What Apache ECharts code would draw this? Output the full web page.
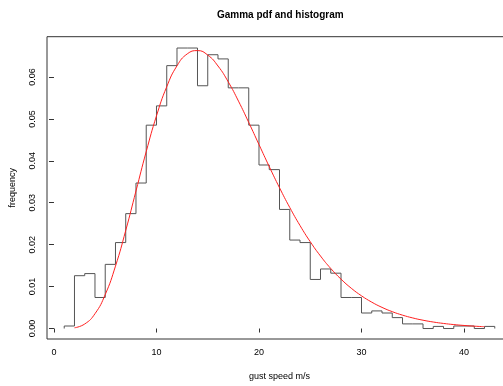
<!DOCTYPE html>
<html><head><meta charset="utf-8">
<script src="https://cdn.jsdelivr.net/npm/echarts@6/dist/echarts.min.js"></script>
<style>html,body{margin:0;padding:0;background:#fff;overflow:hidden;width:503px;height:386px}#c{width:512px;height:386px}</style>
</head><body><div id="c"></div>
<script>
const chartTitle = 'Gamma pdf and histogram';
const xName = 'gust speed m/s';
const yName = 'frequency';
// histogram: bin left edges (width 1) and bin heights (density)
const binStarts = [1,2,3,4,5,6,7,8,9,10,11,12,13,14,15,16,17,18,19,20,21,22,23,24,25,26,27,28,29,30,31,32,33,34,35,36,37,38,39,40,41,42];
const binHeights = [0.0006,0.0126,0.0131,0.0074,0.0153,0.0205,0.0274,0.0347,0.0485,0.0531,0.0627,0.0669,0.0669,0.0579,0.0653,0.0643,0.0574,0.0574,0.0485,0.0390,0.0379,0.0284,0.0211,0.0205,0.0117,0.0142,0.0132,0.0074,0.0074,0.0037,0.0042,0.0037,0.0026,0.0011,0.0011,0.0000,0.0005,0.0000,0.0006,0.0006,0.0000,0.0005];
const binWidth = 1;
// gamma pdf curve
const curveX = [2,3,4,5,6,7,8,9,10,11,12,13,14,15,16,17,18,19,20,21,22,23,24,25,26,27,28,29,30,31,32,33,34,35,36,37,38,39,40,41,42];
const curveY = [0.00017,0.00108,0.00353,0.00810,0.01488,0.02338,0.03280,0.04220,0.05071,0.05767,0.06265,0.06550,0.06629,0.06522,0.06261,0.05883,0.05423,0.04915,0.04387,0.03862,0.03358,0.02887,0.02457,0.02070,0.01729,0.01432,0.01178,0.00961,0.00780,0.00629,0.00504,0.00402,0.00319,0.00252,0.00198,0.00155,0.00121,0.00094,0.00073,0.00056,0.00043];
const xTicks = [0,10,20,30,40];
const yTicks = [0,0.01,0.02,0.03,0.04,0.05,0.06];

const histPts = [[binStarts[0], 0]];
binStarts.forEach((s, i) => { histPts.push([s, binHeights[i]]); histPts.push([s + binWidth, binHeights[i]]); });
histPts.push([binStarts[binStarts.length - 1] + binWidth, 0]);

const FONT = "'Liberation Sans', Arial, Helvetica, sans-serif";
const chart = echarts.init(document.getElementById('c'), null, {renderer: 'canvas'});
chart.setOption({
  animation: false,
  backgroundColor: '#fff',
  title: {
    text: chartTitle, left: 217, top: 10, padding: 0,
    textStyle: {fontFamily: FONT, fontSize: 10, fontWeight: 'bold', color: '#000'}
  },
  grid: {left: 46.5, top: 36.7, right: 0, bottom: 40.3, show: true, borderColor: '#333', borderWidth: 1, backgroundColor: 'transparent'},
  xAxis: {
    type: 'value', min: -0.68, max: 44.68,
    name: xName, nameLocation: 'middle', nameGap: 33,
    nameTextStyle: {fontFamily: FONT, fontSize: 9, color: '#000'},
    axisLine: {show: false},
    axisTick: {show: true, length: 4, customValues: xTicks, lineStyle: {color: '#333'}},
    axisLabel: {customValues: xTicks, margin: 9, fontFamily: FONT, fontSize: 9, color: '#000'},
    splitLine: {show: false}
  },
  yAxis: {
    type: 'value', min: -0.0025, max: 0.0696,
    name: yName, nameLocation: 'middle', nameGap: 30,
    nameTextStyle: {fontFamily: FONT, fontSize: 9, color: '#000'},
    axisLine: {show: false},
    axisTick: {show: true, length: 5, customValues: yTicks, lineStyle: {color: '#333'}},
    axisLabel: {customValues: yTicks, rotate: 90, margin: 10, fontFamily: FONT, fontSize: 9, color: '#000',
      formatter: v => v.toFixed(2)},
    splitLine: {show: false}
  },
  series: [
    {type: 'line', data: histPts, showSymbol: false, symbol: 'none', lineStyle: {color: '#555', width: 1}, z: 2},
    {type: 'line', data: curveX.map((x, i) => [x, curveY[i]]), smooth: true, showSymbol: false, symbol: 'none', lineStyle: {color: '#ff2020', width: 1}, z: 3}
  ]
});
</script></body></html>
